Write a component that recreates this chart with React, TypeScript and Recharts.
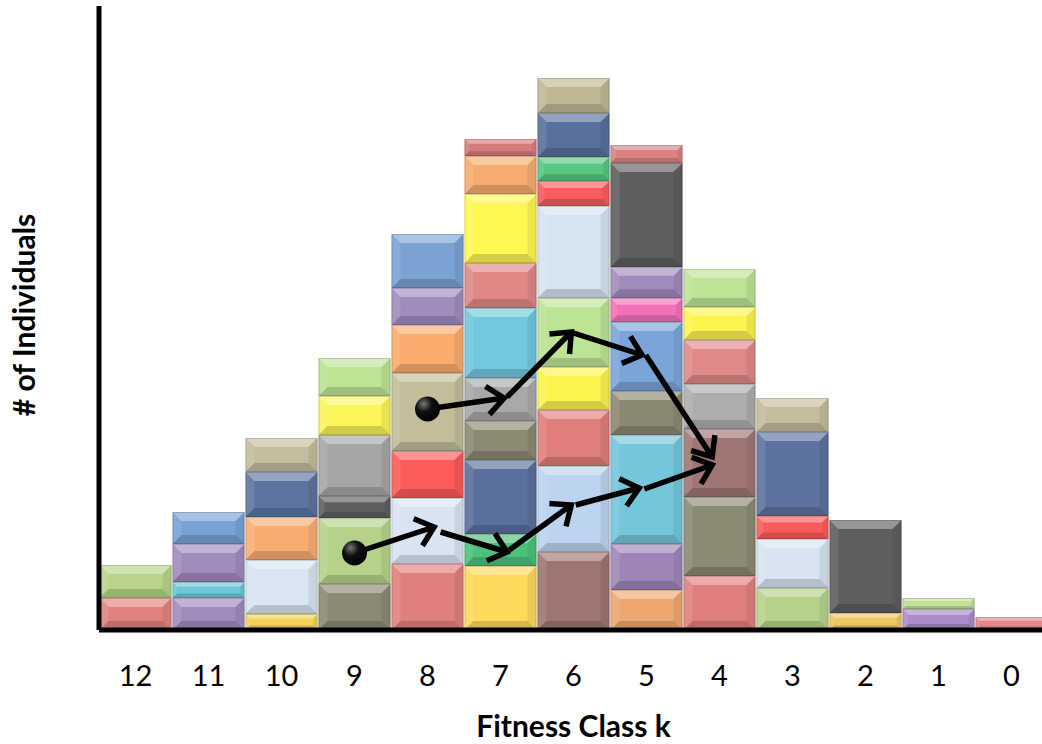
import React from 'react';
import { BarChart, Bar, XAxis, YAxis, ReferenceLine, ReferenceDot } from 'recharts';

const fitnessClasses = ['12', '11', '10', '9', '8', '7', '6', '5', '4', '3', '2', '1', '0'];

// stacked segment sizes (bottom -> top) for each fitness class
const seg12 = [32, 33];
const seg11 = [32, 16, 38, 32];
const seg10 = [16, 54, 43, 45, 34];
const seg9 = [46, 66, 22, 61, 39, 38];
const seg8 = [66, 66, 47, 78, 48, 37, 54];
const seg7 = [64, 32, 74, 39, 43, 70, 45, 69, 38, 17];
const seg6 = [78, 86, 56, 43, 69, 92, 25, 24, 44, 35];
const seg5 = [40, 46, 109, 44, 69, 24, 31, 104, 18];
const seg4 = [54, 79, 68, 45, 44, 33, 38];
const seg3 = [42, 49, 23, 84, 34];
const seg2 = [17, 93];
const seg1 = [21, 11];
const seg0 = [13];

const col12 = ['#e0837f', '#b9d48a'];
const col11 = ['#a08bbd', '#6fc7d6', '#a08bbd', '#78a2d6'];
const col10 = ['#f5d35a', '#d9e5f3', '#f8ad70', '#5e74a0', '#c3bd9c'];
const col9 = ['#8b8a73', '#b6d28a', '#5f5f5f', '#a6a6a6', '#fbf45a', '#bde495'];
const col8 = ['#e0807e', '#d9e4f2', '#fb5b5a', '#c3bd9c', '#f9ac6e', '#a08cbd', '#7aa3d4'];
const col7 = ['#fdd95c', '#4cc17a', '#5b6f9c', '#8c8a72', '#a9a9a9', '#72c8de', '#df8886', '#fef850', '#f6ac6e', '#d77c7c'];
const col6 = ['#9e7572', '#bcd4ef', '#df7e7b', '#fdf44f', '#bde495', '#d6e3f1', '#f95c5c', '#56c882', '#59709c', '#c0b894'];
const col5 = ['#eea86f', '#9d86b7', '#74c6db', '#8b8871', '#7ba5d8', '#f272b8', '#a08bbd', '#5e5e5e', '#d98383'];
const col4 = ['#e0807e', '#8b8a73', '#9f7673', '#adadad', '#df8a88', '#fdf44f', '#bde495'];
const col3 = ['#b6d28a', '#d8e4f2', '#fa5b5a', '#5d729e', '#c3bd9c'];
const col2 = ['#eec865', '#5e5e5e'];
const col1 = ['#a98cc9', '#c2e09a'];
const col0 = ['#e38a88'];

const segments = [seg12, seg11, seg10, seg9, seg8, seg7, seg6, seg5, seg4, seg3, seg2, seg1, seg0];
const segColors = [col12, col11, col10, col9, col8, col7, col6, col5, col4, col3, col2, col1, col0];

// arrows: [kFrom, vFrom, kTo, vTo] on a numeric fitness-class scale
const upperArrows = [
  [8.0, 221, 6.95, 232],
  [6.91, 233, 6.03, 298],
  [6.0, 297, 5.06, 275],
  [5.01, 275, 4.1, 173],
];
const lowerArrows = [
  [9.0, 77, 7.91, 103],
  [7.82, 98, 6.91, 78],
  [6.88, 80, 6.03, 125],
  [5.97, 125, 5.1, 142],
  [5.03, 141, 4.1, 165],
];
const startDots = [
  [8.0, 221],
  [9.0, 77],
];

const MAX_SEG = Math.max(...segments.map((s) => s.length));
const segKeys = Array.from({ length: MAX_SEG }, (_, j) => 's' + j);

const data = fitnessClasses.map((k, i) => {
  const row: Record<string, any> = { k, kNum: Number(k) };
  segments[i].forEach((v, j) => {
    row['s' + j] = v;
  });
  return row;
});

const Bevel = (props: any) => {
  const { x, y, width: w, height: h, fill } = props;
  if (!h || h <= 0 || !fill || !w) return null;
  const d = Math.min(9, h * 0.28, w * 0.3);
  const pts = (arr: number[][]) => arr.map((p) => p.join(',')).join(' ');
  return (
    <g>
      <rect x={x} y={y} width={w} height={h} fill={fill} />
      <polygon points={pts([[x, y], [x + w, y], [x + w - d, y + d], [x + d, y + d]])} fill="#ffffff" fillOpacity={0.35} />
      <polygon points={pts([[x, y + h], [x + w, y + h], [x + w - d, y + h - d], [x + d, y + h - d]])} fill="#000000" fillOpacity={0.16} />
      <polygon points={pts([[x, y], [x + d, y + d], [x + d, y + h - d], [x, y + h]])} fill="#ffffff" fillOpacity={0.1} />
      <polygon points={pts([[x + w, y], [x + w - d, y + d], [x + w - d, y + h - d], [x + w, y + h]])} fill="#000000" fillOpacity={0.07} />
      <rect x={x + 0.5} y={y + 0.5} width={Math.max(0, w - 1)} height={Math.max(0, h - 1)} fill="none" stroke="#000" strokeOpacity={0.15} />
    </g>
  );
};

const ArrowShape = (p: any) => {
  const x1 = Number(p.x1), y1 = Number(p.y1), x2 = Number(p.x2), y2 = Number(p.y2);
  const ang = Math.atan2(y2 - y1, x2 - x1);
  const L = 22;
  const a = 0.7;
  const ax = x2 - L * Math.cos(ang - a);
  const ay = y2 - L * Math.sin(ang - a);
  const bx = x2 - L * Math.cos(ang + a);
  const by = y2 - L * Math.sin(ang + a);
  return (
    <g>
      <line x1={x1} y1={y1} x2={x2} y2={y2} stroke="#000" strokeWidth={5.5} />
      <polyline points={`${ax},${ay} ${x2},${y2} ${bx},${by}`} fill="none" stroke="#000" strokeWidth={5.5} strokeLinejoin="miter" />
    </g>
  );
};

const DotShape = (p: any) => {
  const { cx, cy, r } = p;
  return (
    <g>
      <defs>
        <radialGradient id="ballGrad" cx="35%" cy="30%" r="70%">
          <stop offset="0%" stopColor="#777" />
          <stop offset="45%" stopColor="#111" />
          <stop offset="100%" stopColor="#000" />
        </radialGradient>
      </defs>
      <circle cx={cx} cy={cy} r={r} fill="url(#ballGrad)" />
    </g>
  );
};

const XTick = (p: any) => {
  const { x, y, payload } = p;
  return (
    <text x={x} y={y + 56} textAnchor="middle" fontFamily="Lato, 'Open Sans', sans-serif" fontSize={29} fill="#000">
      {payload.value}
    </text>
  );
};

const XLabel = (p: any) => {
  const vb = p.viewBox || { x: 0, y: 0, width: 0 };
  return (
    <text x={vb.x + vb.width / 2} y={vb.y + 107} textAnchor="middle" fontFamily="Lato, 'Open Sans', sans-serif" fontWeight="bold" fontSize={30} fill="#000">
      Fitness Class k
    </text>
  );
};

const YLabel = (p: any) => {
  const vb = p.viewBox || { x: 0, y: 0, width: 0, height: 0 };
  const cx = vb.x + 35;
  const cy = vb.y + vb.height / 2 - 3;
  return (
    <text x={cx} y={cy} transform={`rotate(-90, ${cx}, ${cy})`} textAnchor="middle" fontFamily="Lato, 'Open Sans', sans-serif" fontWeight="bold" fontSize={30} fill="#000">
      # of Individuals
    </text>
  );
};

export default function App() {
  return (
    <div style={{ position: 'absolute', left: 0, top: 0, width: 1042, height: 744, overflow: 'hidden', background: '#fff' }}>
      <BarChart width={1060} height={744} data={data} margin={{ top: 6, right: 12, bottom: 0, left: 0 }} barCategoryGap={0.5}>
        <XAxis
          dataKey="k"
          height={114}
          interval={0}
          tickLine={false}
          tickSize={0}
          tickMargin={0}
          tick={<XTick />}
          axisLine={{ stroke: '#000', strokeWidth: 5 }}
          label={{ content: <XLabel /> } as any}
        />
        <XAxis xAxisId="n" dataKey="kNum" type="number" domain={[-0.5, 12.5]} reversed hide allowDataOverflow />
        <YAxis
          width={99}
          domain={[0, 624]}
          allowDataOverflow
          tick={false}
          tickLine={false}
          axisLine={{ stroke: '#000', strokeWidth: 5 }}
          label={{ content: <YLabel /> } as any}
        />
        {segKeys.map((key, j) => (
          <Bar
            key={key}
            dataKey={key}
            stackId="a"
            isAnimationActive={false}
            fill="#cccccc"
            shape={(p: any) => <Bevel {...p} fill={segColors[p.index] ? segColors[p.index][j] : undefined} />}
          />
        ))}
        {[...upperArrows, ...lowerArrows].map((s, i) => (
          <ReferenceLine
            key={'arr' + i}
            xAxisId="n"
            segment={[{ x: s[0], y: s[1] }, { x: s[2], y: s[3] }]}
            shape={ArrowShape}
            ifOverflow="visible"
          />
        ))}
        {startDots.map((d, i) => (
          <ReferenceDot key={'dot' + i} xAxisId="n" x={d[0]} y={d[1]} r={12.5} shape={DotShape} ifOverflow="visible" />
        ))}
      </BarChart>
    </div>
  );
}
